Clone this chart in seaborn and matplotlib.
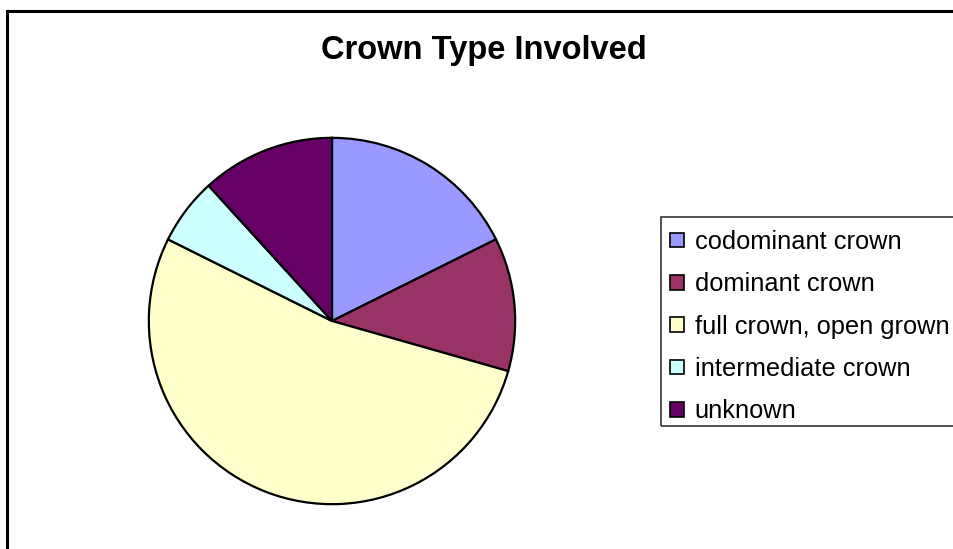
import matplotlib
matplotlib.use("Agg")
import matplotlib.pyplot as plt
from matplotlib.patches import Rectangle, Patch
import seaborn as sns

categories = ["codominant crown", "dominant crown", "full crown, open grown",
              "intermediate crown", "unknown"]
counts = [3, 2, 9, 1, 2]
colors = ["#9999FF", "#993366", "#FFFFCC", "#CCFFFF", "#660066"]
title = "Crown Type Involved"

sns.set_theme(style="white")
plt.rcParams["font.family"] = ["Liberation Sans", "DejaVu Sans"]

W, H = 954, 549
fig = plt.figure(figsize=(W / 100, H / 100), dpi=100)
fig.patch.set_facecolor("white")

# chart frame (runs off the right and bottom edges)
fig.patches.append(Rectangle((7 / W, -0.1), 1.2, 1 - 11 / H + 0.1,
                             transform=fig.transFigure, fill=False,
                             edgecolor="black", linewidth=2.2, zorder=0))

# pie
cx, cy, r = 332, H - 321, 185
ax = fig.add_axes([(cx - r) / W, (cy - r) / H, 2 * r / W, 2 * r / H])
ax.pie(counts, colors=colors, startangle=90, counterclock=False, radius=1,
       wedgeprops=dict(edgecolor="black", linewidth=1.6))
ax.set_xlim(-1.01, 1.01)
ax.set_ylim(-1.01, 1.01)
ax.set_aspect("equal")
ax.axis("off")

# title
fig.text(484 / W, (H - 59) / H, title, ha="center", va="baseline",
         fontsize=23.5, fontweight="bold", color="black")

# legend box
fig.patches.append(Rectangle((661 / W, (H - 426) / H), 1.0, (426 - 217) / H,
                             transform=fig.transFigure, fill=False,
                             edgecolor="#333333", linewidth=1.2, zorder=1))
handles = [Patch(facecolor=c, edgecolor="black", linewidth=1.2) for c in colors]
fig.legend(handles, categories, loc="upper left",
           bbox_to_anchor=(665 / W, (H - 225) / H), frameon=False,
           fontsize=18.3, labelcolor="black", handlelength=0.53,
           handleheight=0.5, handletextpad=0.44, labelspacing=0.72,
           borderpad=0.2, borderaxespad=0)

fig.savefig("out.png", dpi=100, facecolor="white")
